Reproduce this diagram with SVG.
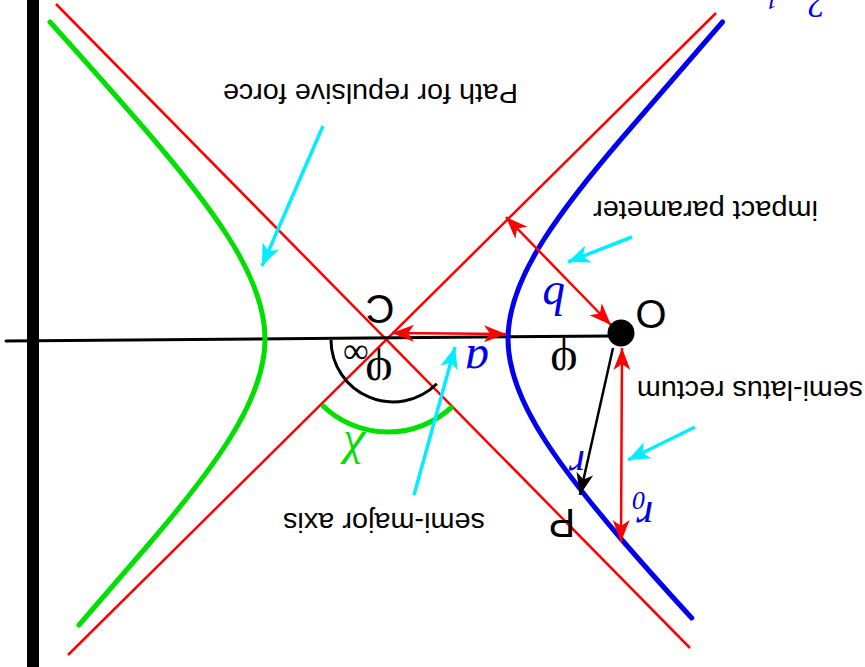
<svg xmlns="http://www.w3.org/2000/svg" width="865" height="667" viewBox="0 0 865 667">
<style>
.lab{font-family:"Liberation Sans",Arial,sans-serif;font-size:27px;fill:#000}
.big{font-family:"Liberation Sans",Arial,sans-serif;font-size:40px;fill:#000}
.m{font-family:"Liberation Serif","Times New Roman",serif;font-style:italic;fill:#0000ee}
.g{font-family:"Liberation Serif","Times New Roman",serif;fill:#000}
.red{stroke:#ff0000;stroke-width:2.5;fill:none}
.cy{stroke:#00eeff;stroke-width:3.5;fill:none;marker-end:url(#ac)}
.dbl{stroke:#ff0000;stroke-width:2.5;fill:none;marker-start:url(#ar);marker-end:url(#ar)}
</style>
<defs>
<marker id="ar" markerUnits="userSpaceOnUse" markerWidth="26" markerHeight="22" viewBox="-24 -11 26 22" refX="0" refY="0" orient="auto-start-reverse"><path d="M0,0 L-22,-8.5 L-16,0 L-22,8.5 Z" fill="#ff0000"/></marker>
<marker id="ab" markerUnits="userSpaceOnUse" markerWidth="26" markerHeight="22" viewBox="-24 -11 26 22" refX="0" refY="0" orient="auto"><path d="M0,0 L-22,-8.5 L-16,0 L-22,8.5 Z" fill="#000"/></marker>
<marker id="ac" markerUnits="userSpaceOnUse" markerWidth="26" markerHeight="22" viewBox="-24 -11 26 22" refX="0" refY="0" orient="auto"><path d="M0,0 L-22,-9 L-16,0 L-22,9 Z" fill="#00eeff"/></marker>
</defs>
<rect width="865" height="667" fill="#fff"/>
<rect x="27" y="0" width="12" height="667" fill="#000"/>
<g id="asymptotes">
<line class="red" x1="56" y1="4" x2="690" y2="648"/>
<line class="red" x1="716" y1="13" x2="68" y2="655"/>
</g>
<g id="axis"><line x1="6" y1="341" x2="612" y2="336" stroke="#000" stroke-width="3" stroke-linecap="round"/></g>
<g id="attractive-path"><path d="M 722.5,22 Q 662.3,91.2 621.2,139 Q 569.8,199 544.2,239 Q 508,295.6 508,339 Q 508,382.4 544.2,439 Q 569.8,479 621.2,539 Q 651.2,573.8 691.7,618" fill="none" stroke="#0000ee" stroke-width="5" stroke-linecap="round"/></g>
<g id="repulsive-path"><path d="M 50,22 Q 108.5,87 149,134 Q 201.7,195.5 227.9,236.5 Q 265,294.5 265,339 Q 265,383.5 227.9,441.5 Q 201.7,482.5 149,544 Q 117.9,580.1 79,625" fill="none" stroke="#00e000" stroke-width="5" stroke-linecap="round"/></g>
<g id="angles">
<path d="M 331,340 A 62 62 0 0 0 436.8,383.8" fill="none" stroke="#000" stroke-width="3"/>
<path d="M 322,405 A 94 94 0 0 0 452.5,406.4" fill="none" stroke="#00e000" stroke-width="5"/>
</g>
<g id="connectors">
<line class="dbl" x1="392" y1="333" x2="506" y2="334"/>
<line class="dbl" x1="611" y1="325" x2="506" y2="217"/>
<line class="dbl" x1="622" y1="348" x2="621" y2="542"/>
<line x1="613" y1="348" x2="580" y2="495" stroke="#000" stroke-width="2.5" marker-end="url(#ab)"/>
<line class="cy" x1="323" y1="126" x2="262" y2="266"/>
<line class="cy" x1="632" y1="237" x2="568" y2="262"/>
<line class="cy" x1="695" y1="427" x2="628" y2="460"/>
<line class="cy" x1="414" y1="495" x2="455" y2="347"/>
</g>
<g id="O"><circle cx="621" cy="333" r="13.5" fill="#000"/>
<text class="big" x="651" y="328" text-anchor="middle" transform="rotate(180 651 314)">O</text></g>
<g id="C"><text class="big" x="380" y="323" text-anchor="middle" transform="rotate(180 380 309)">C</text></g>
<g id="P"><text class="big" x="562" y="537" text-anchor="middle" transform="rotate(180 562 523)">P</text></g>
<g id="labels">
<text class="lab" x="370.5" y="104" text-anchor="middle" textLength="295" lengthAdjust="spacingAndGlyphs" transform="rotate(180 370.5 94)">Path for repulsive force</text>
<text class="lab" x="705.5" y="221" text-anchor="middle" textLength="225" lengthAdjust="spacingAndGlyphs" transform="rotate(180 705.5 211)">impact parameter</text>
<text class="lab" x="750" y="401" text-anchor="middle" textLength="226" lengthAdjust="spacingAndGlyphs" transform="rotate(180 750 391)">semi-latus rectum</text>
<text class="lab" x="384" y="533" text-anchor="middle" textLength="202" lengthAdjust="spacingAndGlyphs" transform="rotate(180 384 523)">semi-major axis</text>
<text class="m" font-size="48" x="477" y="368" text-anchor="middle" transform="rotate(180 477 357)">a</text>
<text class="m" font-size="46" x="554" y="313" text-anchor="middle" transform="rotate(180 554 298)">b</text>
<text class="m" font-size="42" x="577" y="469" text-anchor="middle" transform="rotate(180 577 460)">r</text>
<text class="m" font-size="44" x="645" y="522" text-anchor="middle" transform="rotate(180 645 512)">r</text>
<text class="m" font-size="26" x="639" y="508" text-anchor="middle" transform="rotate(180 639 500)">0</text>
<text class="g" font-size="48" x="564" y="370" text-anchor="middle" transform="rotate(180 564 359)">φ</text>
<text class="g" font-size="48" x="379" y="380" text-anchor="middle" transform="rotate(180 379 369)">φ</text>
<text class="g" font-size="36" x="356" y="361" text-anchor="middle" transform="rotate(180 356 351.5)">∞</text>
<text class="m" font-size="48" x="352" y="456" text-anchor="middle" style="fill:#00e000" transform="rotate(180 352 449)">χ</text>
<text class="m" font-size="36" x="817" y="7" text-anchor="middle" transform="rotate(180 817 0)">2</text>
<text class="m" font-size="24" x="772" y="6" text-anchor="middle" transform="rotate(180 772 0)">1</text>
</g>
</svg>
